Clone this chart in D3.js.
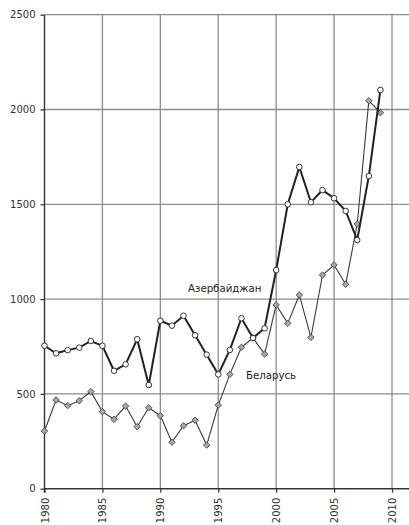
<!DOCTYPE html>
<html><head><meta charset="utf-8">
<script src="https://cdn.jsdelivr.net/npm/d3@7"></script>
<style>body{margin:0;background:#fff}svg{display:block}text{font-family:"DejaVu Sans",Verdana,sans-serif}</style>
</head><body>
<svg id="c" width="409" height="525"></svg>
<script>
const years = d3.range(1980, 2010);
const azerbaijan = [754,714,731,744,779,754,622,656,788,547,886,860,912,809,707,603,732,899,795,846,1153,1500,1697,1511,1575,1532,1465,1312,1649,2103];
const belarus = [304,468,438,464,512,406,366,436,327,427,385,245,332,361,230,441,603,746,796,710,969,872,1022,798,1127,1180,1078,1396,2046,1983];
const yTicks = [0,500,1000,1500,2000,2500];
const xTicks = [1980,1985,1990,1995,2000,2005,2010];
const labelAz = "Азербайджан";
const labelBy = "Беларусь";

const svg = d3.select("#c");
const x = d3.scaleLinear().domain([1980, 2010]).range([44.5, 392]);
const y = d3.scaleLinear().domain([0, 2500]).range([488.7, 14.7]);
const right = 409;

svg.append("g").selectAll("line").data(yTicks.filter(d=>d>0)).join("line")
  .attr("x1", x(1980)).attr("x2", right).attr("y1", d=>y(d)).attr("y2", d=>y(d))
  .attr("stroke", "#8c8c8c").attr("stroke-width", 1.3);
svg.append("g").selectAll("line").data(xTicks.filter(d=>d>1980)).join("line")
  .attr("x1", d=>x(d)).attr("x2", d=>x(d)).attr("y1", y(2500)).attr("y2", y(0))
  .attr("stroke", "#8c8c8c").attr("stroke-width", 1.3);

const yAxis = d3.axisLeft(y).tickValues(yTicks).tickSize(4).tickPadding(5).tickFormat(d3.format("d"));
const gy = svg.append("g").attr("transform", `translate(${x(1980)},0)`).call(yAxis);
gy.select(".domain").remove();
gy.selectAll(".tick line").attr("stroke", "#333").attr("stroke-width", 1.2);
gy.selectAll("text").attr("font-size", 10).attr("fill", "#333");
svg.append("line").attr("x1", x(1980)).attr("x2", x(1980)).attr("y1", y(2500)).attr("y2", y(0)+4)
  .attr("stroke", "#333").attr("stroke-width", 1.4);

const xAxis = d3.axisBottom(x).tickValues(xTicks).tickSize(4).tickFormat(d3.format("d"));
const gx = svg.append("g").attr("transform", `translate(0,${y(0)})`).call(xAxis);
gx.select(".domain").remove();
gx.selectAll(".tick line").attr("stroke", "#333").attr("stroke-width", 1.2);
gx.selectAll("text").attr("font-size", 10).attr("fill", "#333")
  .attr("transform", "rotate(-90)").attr("text-anchor", "end")
  .attr("x", -9).attr("y", 0).attr("dy", "0.35em");
svg.append("line").attr("x1", x(1980)).attr("x2", right).attr("y1", y(0)).attr("y2", y(0))
  .attr("stroke", "#333").attr("stroke-width", 1.4);

const line = d3.line().x((d,i)=>x(years[i])).y(d=>y(d));

svg.append("path").datum(belarus).attr("d", line).attr("fill","none").attr("stroke","#3a3a3a").attr("stroke-width",1.1);
const sym = d3.symbol().type(d3.symbolDiamond2).size(26);
svg.append("g").selectAll("path").data(belarus).join("path")
  .attr("d", sym).attr("transform", (d,i)=>`translate(${x(years[i])},${y(d)})`)
  .attr("fill", "#a8a8a8").attr("stroke", "#444").attr("stroke-width", 0.9);

svg.append("path").datum(azerbaijan).attr("d", line).attr("fill","none").attr("stroke","#222").attr("stroke-width",2);
svg.append("g").selectAll("circle").data(azerbaijan).join("circle")
  .attr("cx", (d,i)=>x(years[i])).attr("cy", d=>y(d)).attr("r", 2.8)
  .attr("fill", "#fff").attr("stroke", "#333").attr("stroke-width", 1);

svg.append("text").attr("x", 188).attr("y", 291.5).attr("font-size", 10.2).attr("fill","#222").text(labelAz);
svg.append("text").attr("x", 246).attr("y", 379).attr("font-size", 10.2).attr("fill","#222").text(labelBy);
</script>
</body></html>
